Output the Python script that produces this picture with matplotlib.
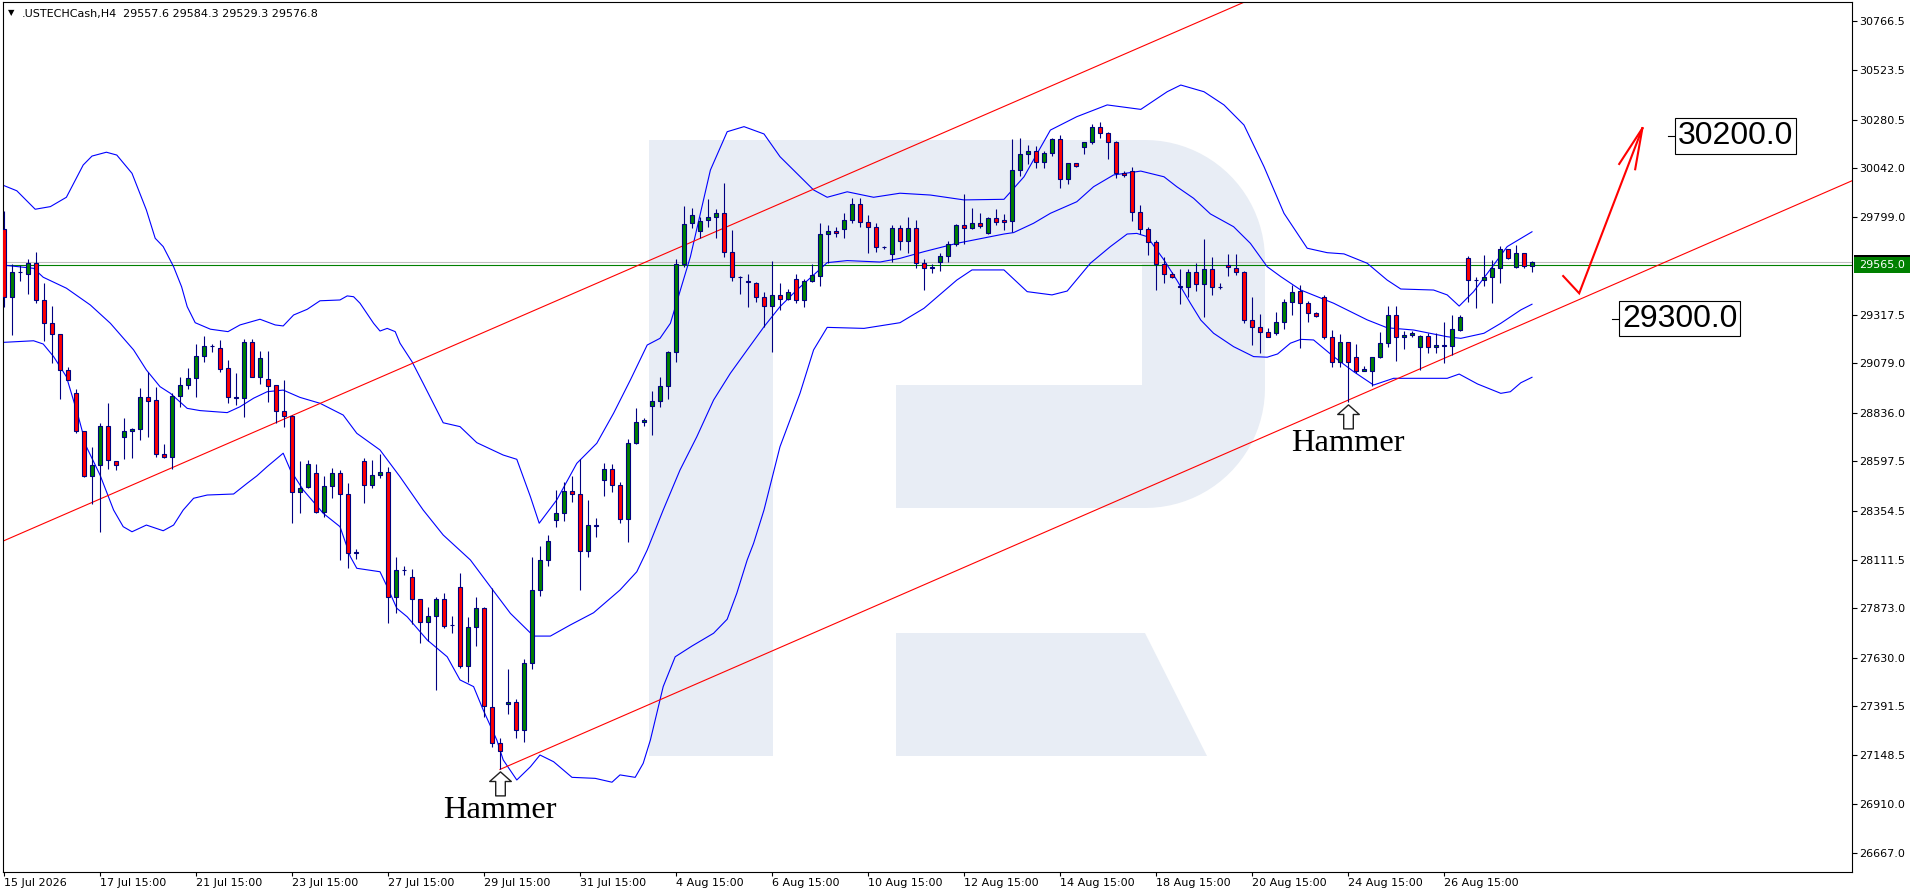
import numpy as np
import matplotlib
matplotlib.use("Agg")
import matplotlib.pyplot as plt
import matplotlib.transforms as mtransforms
from matplotlib.patches import Polygon, Rectangle
from matplotlib.path import Path

# ---- chart data (USTECHCash, H4) ----
symbol = ".USTECHCash,H4"

opens = [29740, 29408, 29528, 29518, 29572, 29392, 29277, 29223, 29045, 28932,
         28745, 28525, 28577, 28769, 28600, 28715, 28748, 28754, 28915, 28899,
         28631, 28620, 28920, 28971, 29006, 29114, 29163, 29154, 29055, 28910,
         28907, 29183, 29014, 29001, 28971, 28843, 28822, 28444, 28469, 28538,
         28346, 28475, 28538, 28434, 28147, 28599, 28479, 28528, 28543, 27927,
         28060, 28029, 27917, 27804, 27833, 27917, 27789, 27976, 27588, 27779,
         27873, 27388, 27207, 27401, 27409, 27273, 27602, 27963, 28109, 28306,
         28341, 28452, 28436, 28154, 28280, 28505, 28561, 28479, 28311, 28686,
         28792, 28870, 28894, 28968, 29134, 29568, 29770, 29732, 29786, 29799,
         29819, 29630, 29503, 29485, 29477, 29405, 29364, 29415, 29395, 29494,
         29392, 29485, 29512, 29717, 29733, 29740, 29786, 29863, 29778, 29753,
         29651, 29617, 29745, 29684, 29745, 29572, 29551, 29577, 29609, 29666,
         29761, 29745, 29771, 29720, 29796, 29786, 29783, 30031, 30109, 30126,
         30070, 30114, 30183, 29986, 30065, 30144, 30172, 30243, 30213, 30169,
         30019, 30026, 29824, 29740, 29679, 29569, 29518, 29457, 29457, 29531,
         29469, 29543, 29454, 29564, 29548, 29528, 29293, 29260, 29236, 29228,
         29285, 29380, 29438, 29375, 29326, 29405, 29211, 29085, 29187, 29109,
         29042, 29042, 29109, 29178, 29316, 29208, 29219, 29159, 29215, 29159,
         29167, 29167, 29244, 29597, 29490, 29490, 29507, 29548, 29641, 29553,
         29622, 29557.6]

highs = [29832, 29569, 29564, 29594, 29630, 29474, 29362, 29223, 29062, 28953,
         28745, 28669, 28784, 28883, 28600, 28809, 28760, 28957, 29039, 28965,
         28682, 28932, 29011, 29055, 29175, 29214, 29173, 29195, 29096, 29034,
         29200, 29200, 29140, 29140, 28971, 28998, 28825, 28599, 28603, 28584,
         28525, 28564, 28554, 28488, 28167, 28612, 28603, 28633, 28571, 28124,
         28081, 28066, 27917, 27881, 27930, 27947, 27836, 28045, 27832, 27930,
         27878, 27971, 27232, 27572, 27426, 27621, 28124, 28180, 28232, 28456,
         28497, 28525, 28607, 28406, 28316, 28587, 28582, 28493, 28705, 28858,
         28809, 28943, 29014, 29142, 29592, 29855, 29843, 29799, 29888, 29840,
         29970, 29737, 29512, 29520, 29480, 29433, 29586, 29474, 29444, 29520,
         29495, 29569, 29770, 29761, 29753, 29822, 29896, 29896, 29811, 29770,
         29660, 29761, 29761, 29802, 29786, 29592, 29569, 29622, 29684, 29766,
         29914, 29847, 29819, 29802, 29840, 29814, 30183, 30188, 30155, 30151,
         30126, 30192, 30205, 30065, 30068, 30172, 30259, 30267, 30218, 30175,
         30029, 30049, 29860, 29750, 29687, 29602, 29528, 29544, 29543, 29572,
         29691, 29602, 29474, 29619, 29619, 29536, 29405, 29323, 29252, 29334,
         29395, 29466, 29466, 29387, 29331, 29417, 29244, 29224, 29187, 29175,
         29066, 29109, 29236, 29362, 29362, 29241, 29241, 29219, 29228, 29228,
         29282, 29318, 29318, 29609, 29504, 29614, 29589, 29658, 29641, 29663,
         29622, 29584.3]

lows = [29359, 29219, 29487, 29421, 29379, 29191, 29083, 28906, 28996, 28735,
        28522, 28387, 28247, 28557, 28554, 28607, 28612, 28702, 28718, 28620,
        28612, 28557, 28866, 28953, 28915, 29088, 29137, 29039, 28883, 28873,
        28817, 29014, 28976, 28888, 28784, 28768, 28291, 28344, 28464, 28341,
        28324, 28415, 28111, 28070, 28117, 28393, 28464, 28513, 27802, 27851,
        28037, 27795, 27703, 27712, 27470, 27774, 27753, 27577, 27511, 27689,
        27339, 27188, 27079, 27350, 27232, 27216, 27572, 27935, 28083, 28272,
        28305, 28398, 27963, 28127, 28222, 28428, 28447, 28295, 28201, 28681,
        28771, 28727, 28866, 28902, 29085, 29556, 29745, 29696, 29753, 29696,
        29605, 29487, 29421, 29356, 29384, 29260, 29137, 29343, 29392, 29375,
        29356, 29482, 29462, 29573, 29704, 29696, 29773, 29753, 29625, 29630,
        29645, 29581, 29638, 29622, 29548, 29441, 29523, 29536, 29581, 29659,
        29668, 29740, 29745, 29717, 29761, 29737, 29728, 30003, 30062, 30044,
        30044, 30103, 29945, 29963, 30049, 30111, 30159, 30192, 30085, 29995,
        29996, 29783, 29717, 29613, 29441, 29474, 29498, 29372, 29405, 29438,
        29310, 29416, 29444, 29510, 29515, 29280, 29170, 29132, 29208, 29219,
        29249, 29318, 29154, 29285, 29310, 29198, 29060, 29063, 28891, 29034,
        29042, 28970, 29104, 29159, 29093, 29149, 29208, 29047, 29132, 29132,
        29080, 29121, 29241, 29384, 29354, 29462, 29375, 29477, 29592, 29548,
        29548, 29529.3]

closes = [29408, 29528, 29530, 29572, 29392, 29277, 29223, 29047, 28996, 28745,
          28525, 28579, 28769, 28603, 28577, 28745, 28756, 28915, 28896, 28631,
          28620, 28920, 28971, 29006, 29114, 29163, 29165, 29052, 28912, 28912,
          29183, 29014, 29104, 28970, 28843, 28822, 28444, 28464, 28582, 28346,
          28475, 28538, 28436, 28144, 28149, 28479, 28528, 28543, 27927, 28060,
          28062, 27917, 27804, 27833, 27917, 27787, 27791, 27588, 27779, 27873,
          27391, 27207, 27170, 27411, 27273, 27602, 27963, 28109, 28203, 28341,
          28452, 28436, 28154, 28282, 28282, 28561, 28479, 28311, 28686, 28792,
          28800, 28894, 28968, 29134, 29568, 29765, 29809, 29783, 29799, 29819,
          29630, 29503, 29505, 29482, 29405, 29364, 29415, 29395, 29433, 29392,
          29485, 29515, 29715, 29733, 29720, 29786, 29863, 29778, 29753, 29651,
          29653, 29745, 29684, 29745, 29572, 29548, 29553, 29609, 29666, 29761,
          29745, 29771, 29758, 29794, 29774, 29774, 30031, 30109, 30126, 30070,
          30114, 30183, 29986, 30065, 30052, 30172, 30243, 30213, 30169, 30016,
          30006, 29824, 29740, 29679, 29569, 29518, 29503, 29459, 29531, 29469,
          29543, 29454, 29456, 29553, 29528, 29293, 29260, 29236, 29211, 29285,
          29380, 29433, 29375, 29326, 29315, 29211, 29085, 29187, 29088, 29042,
          29050, 29109, 29178, 29316, 29208, 29219, 29231, 29215, 29159, 29170,
          29169, 29247, 29310, 29490, 29492, 29507, 29548, 29641, 29597, 29622,
          29559, 29576.8]

# Bollinger bands (bar position, price)
bb_upper_x = [-0.16, 1.6, 3.9, 5.8, 7.8, 9.9, 11.0, 12.8, 14.1, 16.0, 17.8, 18.9, 19.9,
              21.2, 22.2, 22.9, 23.9, 25.8, 28.0, 29.5, 32.0, 33.9, 34.9, 36.2, 37.9,
              39.5, 42.0, 42.9, 43.7, 44.5, 46.2, 47.0, 47.9, 48.9, 49.5, 51.0, 52.4,
              54.9, 57.0, 59.1, 62.4, 64.1, 65.8, 66.9, 69.1, 71.6, 74.1, 76.2, 78.3,
              80.4, 82.0, 83.3, 85.8, 88.3, 90.4, 92.5, 95.0, 97.0, 101.2, 102.9, 105.4,
              108.7, 112.0, 115.8, 120.0, 125.0, 127.5, 130.8, 134.1, 137.9, 142.1,
              145.4, 147.1, 150.0, 152.5, 155.0, 157.5, 160.0, 162.9, 165.4, 167.5,
              170.4, 172.9, 174.6, 178.7, 180.4, 181.9, 183.7, 186.2, 187.9, 191.0]
bb_upper = [29958, 29930, 29839, 29852, 29898, 30057, 30101, 30120, 30106, 30016, 29835, 29696, 29655,
            29556, 29457, 29359, 29280, 29248, 29236, 29269, 29297, 29269, 29264, 29318, 29346,
            29388, 29392, 29412, 29408, 29376, 29277, 29239, 29252, 29236, 29179, 29088, 28981,
            28787, 28768, 28689, 28628, 28607, 28423, 28292, 28407, 28587, 28686, 28834, 28998,
            29170, 29203, 29277, 29605, 30032, 30221, 30246, 30210, 30098, 29934, 29898, 29925,
            29898, 29918, 29909, 29885, 29888, 29999, 30229, 30295, 30353, 30331,
            30418, 30451, 30418, 30353, 30254, 30049, 29819, 29647, 29625, 29619,
            29573, 29490, 29446, 29441, 29417, 29362, 29433, 29564, 29655, 29728]

bb_mid_x = [-0.16, 3.7, 4.9, 7.8, 10.8, 13.3, 16.2, 17.8, 19.5, 20.8, 22.9, 24.5, 27.9,
            29.5, 31.2, 32.9, 34.9, 37.0, 39.5, 42.4, 44.1, 47.0, 49.5, 52.4, 54.9,
            58.3, 60.8, 63.3, 66.2, 68.3, 70.8, 73.7, 77.0, 79.1, 80.4, 82.4, 84.5,
            86.6, 88.7, 90.8, 92.9, 95.0, 97.0, 99.1, 101.2, 102.9, 105.4, 109.5,
            112.0, 115.0, 119.1, 125.0, 126.2, 128.7, 130.8, 134.1, 136.2, 138.7,
            142.1, 145.0, 146.6, 148.7, 150.8, 153.7, 155.8, 157.9, 159.6, 162.1,
            166.2, 170.4, 172.9, 176.2, 180.4, 182.1, 185.0, 187.1, 189.6, 191.0]
bb_mid = [29564, 29548, 29504, 29450, 29367, 29277, 29146, 29047, 28965, 28932, 28858, 28847, 28837,
          28866, 28908, 28940, 28948, 28912, 28883, 28825, 28735, 28653, 28521, 28357, 28234,
          28111, 27979, 27848, 27736, 27736, 27791, 27851, 27963, 28053, 28160, 28357, 28554,
          28718, 28899, 29031, 29146, 29260, 29359, 29441, 29515, 29576, 29586, 29579,
          29597, 29630, 29671, 29717, 29724, 29770, 29819, 29876, 29950, 30008,
          30027, 29999, 29950, 29893, 29816, 29753, 29671, 29556, 29507, 29441,
          29376, 29294, 29255, 29244, 29211, 29203, 29228, 29277, 29343, 29371]

bb_lower_x = [-0.16, 3.7, 4.9, 6.2, 7.8, 9.3, 10.3, 12.0, 13.7, 14.9, 16.0, 17.8, 19.9,
              21.2, 22.4, 23.7, 25.4, 28.7, 30.4, 31.6, 32.9, 34.9, 35.8, 37.4, 39.9,
              42.0, 43.3, 44.1, 47.0, 47.9, 49.1, 50.4, 52.9, 55.4, 57.0, 58.7, 59.9,
              61.6, 62.4, 64.1, 65.8, 67.0, 68.7, 71.0, 73.9, 76.0, 77.0, 78.9, 79.9,
              80.8, 82.4, 83.9, 86.0, 88.7, 90.4, 91.6, 92.9, 93.7, 95.0, 97.0, 99.5,
              101.2, 102.9, 107.5, 112.0, 115.0, 119.1, 121.0, 125.0, 127.9, 131.0,
              132.9, 135.8, 138.3, 140.4, 141.6, 142.9, 145.0, 146.6, 148.3, 149.6,
              151.2, 153.7, 156.2, 157.9, 159.2, 160.8, 162.1, 163.7, 166.2, 168.7,
              171.2, 173.7, 176.7, 180.4, 181.9, 184.2, 187.1, 188.3, 189.6, 191.0]
bb_lower = [29183, 29191, 29175, 29113, 29014, 28817, 28669, 28530, 28357, 28275, 28250, 28283, 28255,
            28283, 28357, 28415, 28431, 28436, 28489, 28525, 28571, 28637, 28554, 28456, 28341,
            28275, 28127, 28070, 28053, 27979, 27873, 27831, 27717, 27634, 27520, 27487, 27372,
            27224, 27126, 27027, 27092, 27150, 27117, 27040, 27035, 27016, 27052, 27040, 27109,
            27224, 27487, 27634, 27687, 27750, 27819, 27947, 28111, 28193, 28357, 28669, 28932,
            29146, 29257, 29252, 29280, 29351, 29490, 29540, 29540, 29433, 29417,
            29436, 29573, 29655, 29717, 29720, 29704, 29589, 29490, 29376, 29293,
            29228, 29162, 29113, 29110, 29126, 29179, 29198, 29195, 29113, 29039,
            28973, 29006, 29006, 29006, 29027, 28978, 28932, 28940, 28984, 29011]

# channel lines (two anchor points each: bar, price)
chan_upper_x = [0, 112]
chan_upper_y = [28206, 30123]
chan_lower_x = [62, 192]
chan_lower_y = [27079, 29310]

bid_price = 29576.8
ask_price = 29565.0
hammer_bars = [62, 168]

target_levels = [30200.0, 29300.0]
target_bars = [208, 201]

# hand drawn forecast arrow
fc_x = [194.9, 196.9, 204.8]
fc_y = [29510, 29425, 30238]
fc_head_x = [201.9, 203.9]
fc_head_y = [30062, 30036]

ytick_vals = [30766.5, 30523.5, 30280.5, 30042.0, 29799.0, 29317.5, 29079.0, 28836.0,
              28597.5, 28354.5, 28111.5, 27873.0, 27630.0, 27391.5, 27148.5, 26910.0, 26667.0]
xtick_bars = [0, 12, 24, 36, 48, 60, 72, 84, 96, 108, 120, 132, 144, 156, 168, 180]
xtick_labels = ["15 Jul 2026", "17 Jul 15:00", "21 Jul 15:00", "23 Jul 15:00", "27 Jul 15:00",
                "29 Jul 15:00", "31 Jul 15:00", "4 Aug 15:00", "6 Aug 15:00", "10 Aug 15:00",
                "12 Aug 15:00", "14 Aug 15:00", "18 Aug 15:00", "20 Aug 15:00", "24 Aug 15:00",
                "26 Aug 15:00"]

# ---- figure ----
W, H = 1916, 896
PL, PR, PT, PB = 2.7, 1852.3, 2.0, 871.7   # plot box, pixels from top-left
PX = 0.72                                   # one pixel in points at dpi 100

plt.rcParams['font.family'] = ['DejaVu Sans']
fig = plt.figure(figsize=(W / 100, H / 100), dpi=100)
ax = fig.add_axes([PL / W, 1 - PB / H, (PR - PL) / W, (PB - PT) / H])

NAVY = '#000080'

# watermark "R" (pixel geometry)
def fig_pts(pts):
    return [(px / W, 1 - py / H) for px, py in pts]

def arc(cx, cy, r, a0, a1, n=24):
    t = np.radians(np.linspace(a0, a1, n))
    return list(zip(cx + r * np.cos(t), cy + r * np.sin(t)))

bowl = ([(649, 140), (1145, 140)] + arc(1145, 260, 120, -90, 0) +
        arc(1145, 388, 120, 0, 90) +
        [(896, 508), (896, 385), (1142, 385), (1142, 264), (773, 264), (773, 756), (649, 756)])
leg = [(896, 633), (1145, 633), (1207, 756), (896, 756)]
for shape in (bowl, leg):
    ax.add_patch(Polygon(fig_pts(shape), closed=True, transform=fig.transFigure,
                         facecolor='#e8edf5', edgecolor='none', zorder=0))

# bands
for bx, by in ((bb_upper_x, bb_upper), (bb_mid_x, bb_mid), (bb_lower_x, bb_lower)):
    ax.plot(bx, by, color='#0000ff', lw=0.8, zorder=2)

# price lines
ax.axhline(bid_price, color='#c0c0c0', lw=0.8, zorder=1.5)
ax.axhline(ask_price, color='#008000', lw=0.8, zorder=1.6)

# channel
su = (chan_upper_y[1] - chan_upper_y[0]) / (chan_upper_x[1] - chan_upper_x[0])
ux = np.array([-1, 240])
ax.plot(ux, chan_upper_y[0] + su * (ux - chan_upper_x[0]), color='#ff0000', lw=0.8, zorder=2.5)
sl = (chan_lower_y[1] - chan_lower_y[0]) / (chan_lower_x[1] - chan_lower_x[0])
lx = np.array([chan_lower_x[0], 240])
ax.plot(lx, chan_lower_y[0] + sl * (lx - chan_lower_x[0]), color='#ff0000', lw=0.8, zorder=2.5)

# candles
o = np.array(opens, float)
h = np.array(highs, float)
l = np.array(lows, float)
c = np.array(closes, float)
x = np.arange(len(c))
up = c >= o
ax.vlines(x, l, h, color=NAVY, lw=0.8, zorder=3)
ax.bar(x, np.maximum(np.abs(c - o), 1.0), bottom=np.minimum(o, c), width=0.52,
       color=np.where(up, '#008000', '#ff0000'), edgecolor=NAVY, linewidth=0.8, zorder=4)

# hammer markers
arrow = Path([(0, -0.1), (0.45, -0.5), (0.2, -0.5), (0.2, -1.1), (-0.2, -1.1),
              (-0.2, -0.5), (-0.45, -0.5), (0, -0.1)],
             [Path.MOVETO] + [Path.LINETO] * 6 + [Path.CLOSEPOLY])
for b in hammer_bars:
    ax.plot(b, lows[b], marker=arrow, ms=38, mfc='white', mec='#202020', mew=1.0,
            zorder=6, clip_on=False)
    ax.annotate("Hammer", (b, lows[b]), xytext=(0, -27 * PX), textcoords='offset points',
                ha='center', va='top', fontsize=23.4, family='Liberation Serif', zorder=6)

# target labels
for lvl, b in zip(target_levels, target_bars):
    ax.plot([b, b + 1.25], [lvl, lvl], color='black', lw=0.8, zorder=6)
    ax.text(b + 1.25, lvl, f"{lvl:.1f}", fontsize=23, family='Liberation Sans',
            ha='left', va='center', zorder=6,
            bbox=dict(boxstyle='square,pad=0.08', fc='white', ec='black', lw=0.8))

# forecast arrow
ax.plot(fc_x, fc_y, color='#ff0000', lw=1.5, zorder=6, solid_joinstyle='miter')
for hx, hy in zip(fc_head_x, fc_head_y):
    ax.plot([fc_x[-1], hx], [fc_y[-1], hy], color='#ff0000', lw=1.5, zorder=6)

# axes
ax.set_xlim(-0.1625, 231.04)
ax.set_ylim(26575.1, 30860.1)
ax.yaxis.tick_right()
ax.set_yticks(ytick_vals, [f"{v:.1f}" for v in ytick_vals])
ax.set_xticks(xtick_bars, xtick_labels)
for t in ax.get_xticklabels():
    t.set_ha('left')
ax.tick_params(axis='y', direction='out', length=5 * PX, width=0.8, pad=1.0, labelsize=8)
ax.tick_params(axis='x', direction='out', length=4 * PX, width=0.8, pad=1.5, labelsize=8)
for s in ax.spines.values():
    s.set_linewidth(0.8)
    s.set_color('black')

# current price labels on the right scale
trans = mtransforms.blended_transform_factory(ax.transAxes, ax.transData)
span = PR - PL
x0 = (1854 - PL) / span
wlab = (1910 - 1854) / span
ax.add_patch(Rectangle((x0, bid_price - 37), wlab, 74, transform=trans, facecolor='black',
                       edgecolor='none', clip_on=False, zorder=7))
ax.add_patch(Rectangle((x0, ask_price - 39.5), wlab, 79, transform=trans, facecolor='#008000',
                       edgecolor='none', clip_on=False, zorder=8))
ax.text((1859 - PL) / span, ask_price, f"{ask_price:.1f}", transform=trans, color='white',
        fontsize=8, ha='left', va='center', zorder=9, clip_on=False)

# header
fig.text(11 / W, 1 - 15.5 / H, "\u25bc", fontsize=6, ha='center', va='baseline')
fig.text(21.7 / W, 1 - 16.7 / H, symbol, fontsize=8, va='baseline')
fig.text(122.7 / W, 1 - 16.7 / H,
         f"{opens[-1]:.1f} {highs[-1]:.1f} {lows[-1]:.1f} {closes[-1]:.1f}",
         fontsize=8, va='baseline')

fig.savefig("out.png", dpi=100)
